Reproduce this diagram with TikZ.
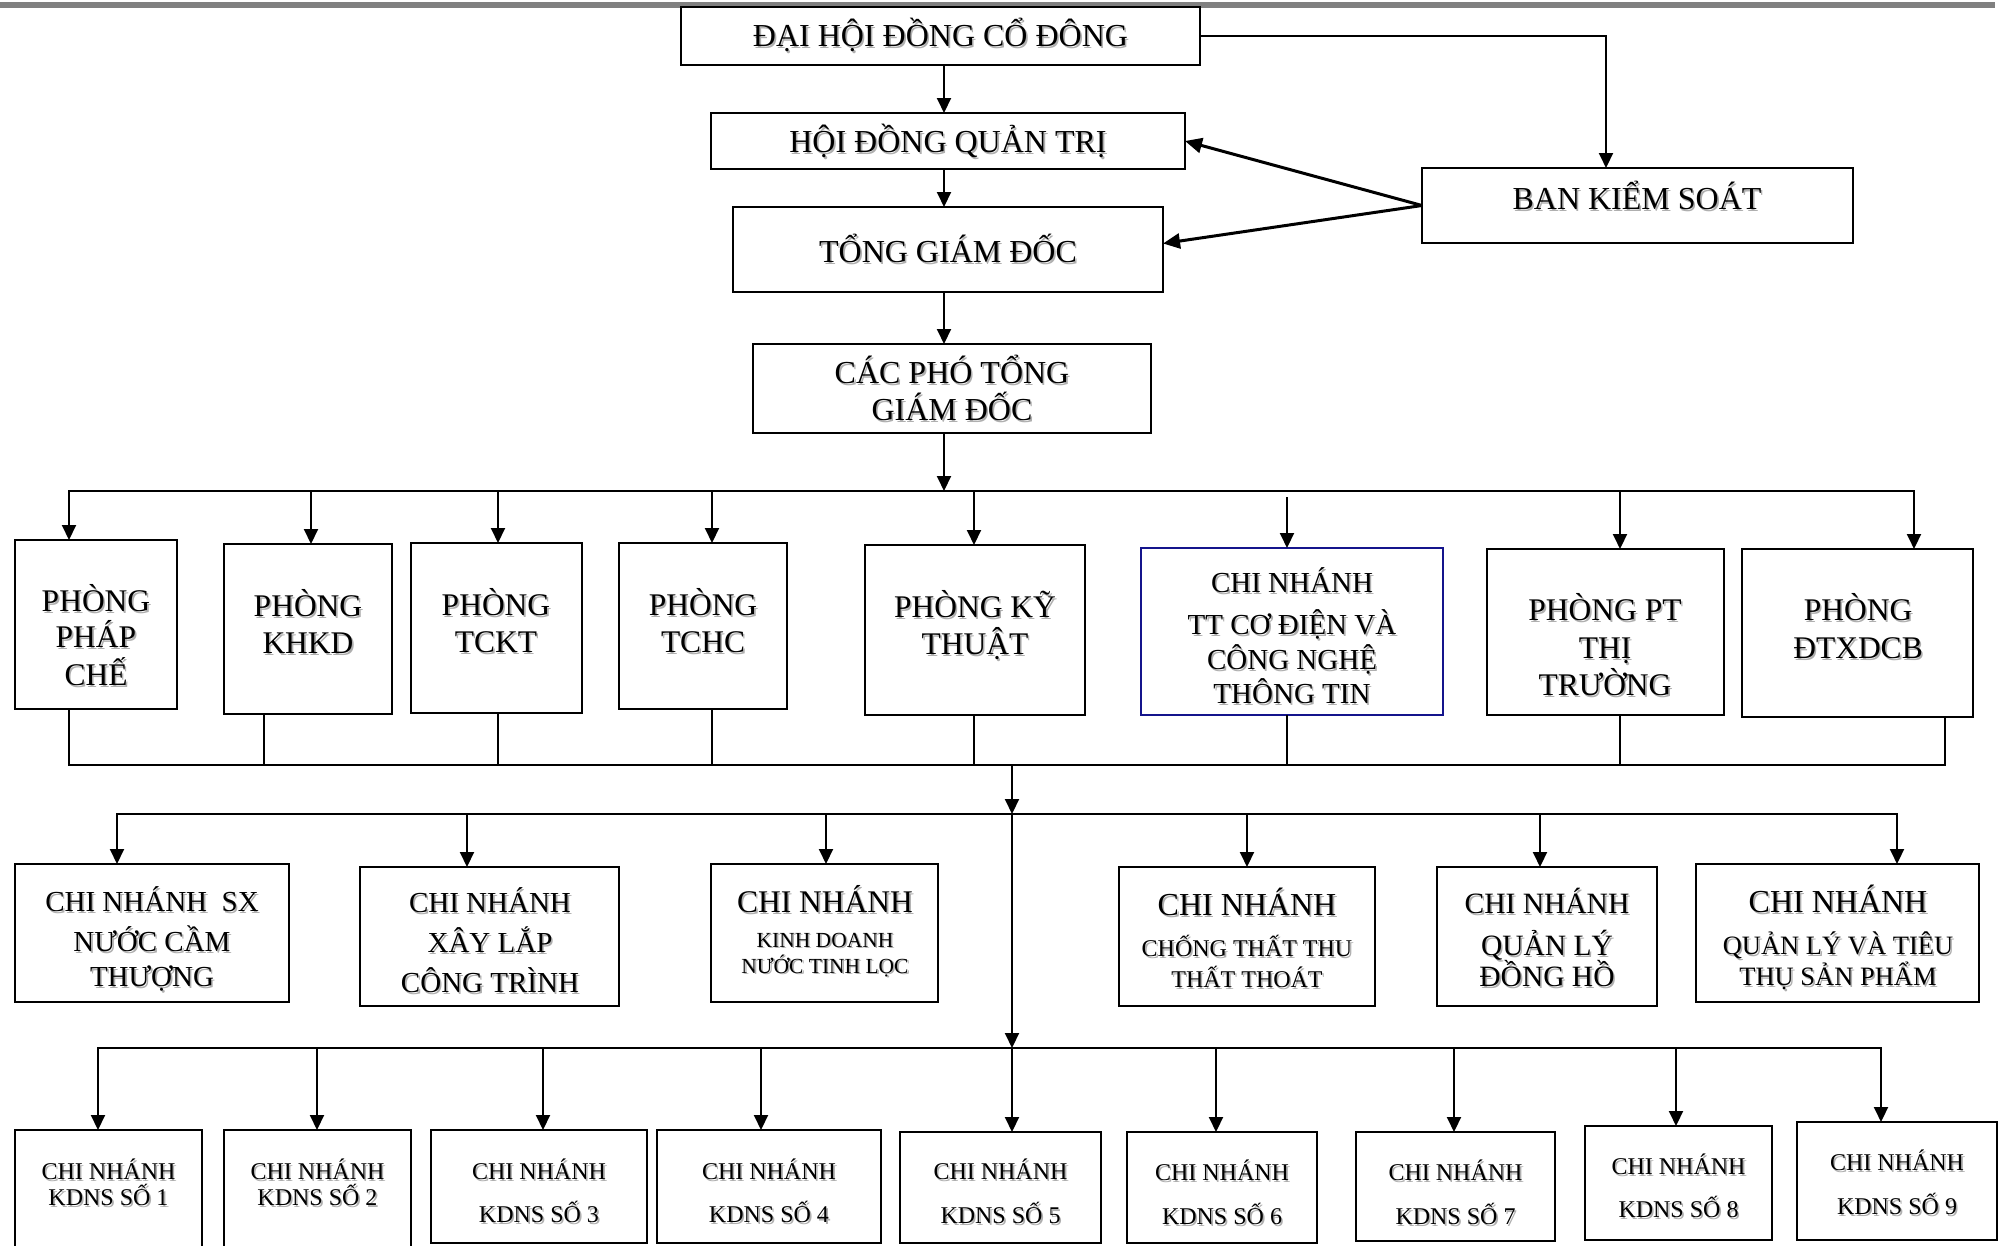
\documentclass[tikz,border=0pt]{standalone}
\usepackage{fontspec}
\setmainfont{Liberation Serif}
\usetikzlibrary{arrows.meta,calc}
\definecolor{barcol}{RGB}{128,128,128}
\definecolor{navyb}{RGB}{20,20,140}
\definecolor{shadowc}{RGB}{175,175,175}
\tikzset{
  box/.style={draw=black,line width=2pt,inner sep=0pt,outer sep=0pt,fill=white},
  conn/.style={draw=black,line width=2pt},
  arr/.style={conn,-{Triangle[length=15pt,width=14pt]}},
  sidearr/.style={draw=black,line width=3pt,-{Triangle[length=17pt,width=15pt]}},
  busline/.style={draw=black,line width=2.6pt,line cap=rect},
  txt/.style={anchor=base,inner sep=0pt,outer sep=0pt,text=black},
  txtsh/.style={anchor=base,inner sep=0pt,outer sep=0pt,text=shadowc},
}
\newcommand\mkbox[6][]{\node[box,#1,minimum width={#5-#3},minimum height={#6-#4}] (#2) at ({(#3+#5)/2},{(#4+#6)/2}) {};}
\newcommand\tline[5]{%
  \node[txtsh,font=\fontsize{#4}{#4}\selectfont] (#1s) at ({#2+1.6},{#3+0.33*#4+1.6}) {#5};
  \node[txt,font=\fontsize{#4}{#4}\selectfont] (#1) at ({#2},{#3+0.33*#4}) {#5};}
\begin{document}
\begin{tikzpicture}[x=1pt,y=-1pt]
\useasboundingbox (0,0) rectangle (2005,1245);
\clip (0,0) rectangle (2005,1245);
\fill[barcol] (0,2) rectangle (1995,8);

% ---------- boxes ----------
\mkbox{dh}{681}{7}{1200}{65}
\mkbox{hd}{711}{113}{1185}{169}
\mkbox{tgd}{733}{207}{1163}{292}
\mkbox{pho}{753}{344}{1151}{433}
\mkbox{bks}{1422}{168}{1853}{243}
% row 1
\mkbox{p1}{15}{540}{177}{709}
\mkbox{p2}{224}{544}{392}{714}
\mkbox{p3}{411}{543}{582}{713}
\mkbox{p4}{619}{543}{787}{709}
\mkbox{p5}{865}{545}{1085}{715}
\mkbox[draw=navyb]{p6}{1141}{548}{1443}{715}
\mkbox{p7}{1487}{549}{1724}{715}
\mkbox{p8}{1742}{549}{1973}{717}
% row 2
\mkbox{c1}{15}{864}{289}{1002}
\mkbox{c2}{360}{867}{619}{1006}
\mkbox{c3}{711}{864}{938}{1002}
\mkbox{c4}{1119}{867}{1375}{1006}
\mkbox{c5}{1437}{867}{1657}{1006}
\mkbox{c6}{1696}{864}{1979}{1002}
% row 3
\mkbox{k1}{15}{1130}{202}{1262}
\mkbox{k2}{224}{1130}{411}{1262}
\mkbox{k3}{431}{1130}{647}{1243}
\mkbox{k4}{657}{1130}{881}{1243}
\mkbox{k5}{900}{1132}{1101}{1243}
\mkbox{k6}{1127}{1132}{1317}{1243}
\mkbox{k7}{1356}{1132}{1555}{1241}
\mkbox{k8}{1585}{1126}{1772}{1240}
\mkbox{k9}{1797}{1122}{1997}{1240}

% ---------- top connectors ----------
\coordinate (ax) at (944,0);
\draw[arr] (dh.south -| ax) -- (hd.north -| ax);
\draw[arr] (hd.south -| ax) -- (tgd.north -| ax);
\draw[arr] (tgd.south -| ax) -- (pho.north -| ax);
\coordinate (kx) at (1606,0);
\draw[arr] (dh.east) -| (kx |- bks.north);
\draw[sidearr] (bks.west) -- (hd.east);
\draw[sidearr] (bks.west) -- ([yshift=6pt]tgd.east);

% ---------- bus 1 ----------
\coordinate (b1l) at (69,491);
\coordinate (b1r) at (1914,491);
\draw[busline] (b1l) -- (b1r);
\draw[arr] (pho.south -| ax) -- (ax |- b1l);
\foreach \n/\x in {p1/69,p2/311,p3/498,p4/712,p5/974,p7/1620,p8/1914}{
  \coordinate (a\n) at (\x,491);
  \draw[arr] (a\n) -- (a\n |- \n.north);
}
\coordinate (ap6) at (1287,497);
\draw[arr] (ap6) -- (ap6 |- p6.north);

% ---------- bus 2 ----------
\coordinate (b2l) at (69,765);
\coordinate (b2r) at (1945,765);
\draw[busline] (b2l) -- (b2r);
\foreach \n/\x in {p1/69,p2/264,p3/498,p4/712,p5/974,p6/1287,p7/1620,p8/1945}{
  \coordinate (d\n) at (\x,765);
  \draw[conn] (\n.south -| d\n) -- (d\n);
}
\coordinate (m2) at (1012,765);
\coordinate (m3) at (1012,814);
\draw[arr] (m2) -- (m3);

% ---------- bus 3 ----------
\coordinate (b3l) at (117,814);
\coordinate (b3r) at (1897,814);
\draw[busline] (b3l) -- (b3r);
\foreach \n/\x in {c1/117,c2/467,c3/826,c4/1247,c5/1540,c6/1897}{
  \coordinate (a\n) at (\x,814);
  \draw[arr] (a\n) -- (a\n |- \n.north);
}
\coordinate (m4) at (1012,1048);
\draw[arr] (m3) -- (m4);

% ---------- bus 4 ----------
\coordinate (b4l) at (98,1048);
\coordinate (b4r) at (1881,1048);
\draw[busline] (b4l) -- (b4r);
\foreach \n/\x in {k1/98,k2/317,k3/543,k4/761,k5/1012,k6/1216,k7/1454,k8/1676,k9/1881}{
  \coordinate (a\n) at (\x,1048);
  \draw[arr] (a\n) -- (a\n |- \n.north);
}

% ---------- texts ----------
\tline{tdh}{940.5}{36}{32}{ĐẠI HỘI ĐỒNG CỔ ĐÔNG}
\tline{thd}{948}{142}{32}{HỘI ĐỒNG QUẢN TRỊ}
\tline{ttgd}{948}{252}{32}{TỔNG GIÁM ĐỐC}
\tline{tpho1}{952}{373}{32}{CÁC PHÓ TỔNG}
\tline{tpho2}{952}{410}{32}{GIÁM ĐỐC}
\tline{tbks}{1637}{199}{32}{BAN KIỂM SOÁT}

\tline{tp1a}{96}{601}{31.5}{PHÒNG}
\tline{tp1b}{96}{637}{31.5}{PHÁP}
\tline{tp1c}{96}{675}{31.5}{CHẾ}
\tline{tp2a}{308}{606}{31.5}{PHÒNG}
\tline{tp2b}{308}{643}{31.5}{KHKD}
\tline{tp3a}{496}{605}{31.5}{PHÒNG}
\tline{tp3b}{496}{642}{31.5}{TCKT}
\tline{tp4a}{703}{605}{31.5}{PHÒNG}
\tline{tp4b}{703}{642}{31.5}{TCHC}
\tline{tp5a}{975}{607}{31.5}{PHÒNG KỸ}
\tline{tp5b}{975}{644}{31.5}{THUẬT}
\tline{tp6a}{1292}{583}{29}{CHI NHÁNH}
\tline{tp6b}{1292}{625}{29}{TT CƠ ĐIỆN VÀ}
\tline{tp6c}{1292}{660}{29}{CÔNG NGHỆ}
\tline{tp6d}{1292}{694}{29}{THÔNG TIN}
\tline{tp7a}{1605}{610}{31.5}{PHÒNG PT}
\tline{tp7b}{1605}{648}{31.5}{THỊ}
\tline{tp7c}{1605}{685}{31.5}{TRƯỜNG}
\tline{tp8a}{1858}{610}{31.5}{PHÒNG}
\tline{tp8b}{1858}{648}{31.5}{ĐTXDCB}

\tline{tc1a}{152}{902}{29}{CHI NHÁNH\ \ SX}
\tline{tc1b}{152}{942}{29}{NƯỚC CẦM}
\tline{tc1c}{152}{977}{29}{THƯỢNG}
\tline{tc2a}{490}{903}{29}{CHI NHÁNH}
\tline{tc2b}{490}{943}{29}{XÂY LẮP}
\tline{tc2c}{490}{983}{29}{CÔNG TRÌNH}
\tline{tc3a}{825}{902}{31.5}{CHI NHÁNH}
\tline{tc3b}{825}{940}{21.5}{KINH DOANH}
\tline{tc3c}{825}{966}{21.5}{NƯỚC TINH LỌC}
\tline{tc4a}{1247}{905}{32}{CHI NHÁNH}
\tline{tc4b}{1247}{949}{24}{CHỐNG THẤT THU}
\tline{tc4c}{1247}{980}{24}{THẤT THOÁT}
\tline{tc5a}{1547}{904}{29.5}{CHI NHÁNH}
\tline{tc5b}{1547}{946}{29.5}{QUẢN LÝ}
\tline{tc5c}{1547}{977}{29.5}{ĐỒNG HỒ}
\tline{tc6a}{1838}{902}{32}{CHI NHÁNH}
\tline{tc6b}{1838}{946}{26.5}{QUẢN LÝ VÀ TIÊU}
\tline{tc6c}{1838}{977}{26.5}{THỤ SẢN PHẨM}

\tline{tk1a}{108.5}{1172}{24}{CHI NHÁNH}
\tline{tk1b}{108.5}{1198}{24}{KDNS SỐ 1}
\tline{tk2a}{317.5}{1172}{24}{CHI NHÁNH}
\tline{tk2b}{317.5}{1198}{24}{KDNS SỐ 2}
\tline{tk3a}{539}{1172}{24}{CHI NHÁNH}
\tline{tk3b}{539}{1215}{24}{KDNS SỐ 3}
\tline{tk4a}{769}{1172}{24}{CHI NHÁNH}
\tline{tk4b}{769}{1215}{24}{KDNS SỐ 4}
\tline{tk5a}{1000.5}{1172}{24}{CHI NHÁNH}
\tline{tk5b}{1000.5}{1216}{24}{KDNS SỐ 5}
\tline{tk6a}{1222}{1173}{24}{CHI NHÁNH}
\tline{tk6b}{1222}{1217}{24}{KDNS SỐ 6}
\tline{tk7a}{1455.5}{1173}{24}{CHI NHÁNH}
\tline{tk7b}{1455.5}{1217}{24}{KDNS SỐ 7}
\tline{tk8a}{1678.5}{1167}{24}{CHI NHÁNH}
\tline{tk8b}{1678.5}{1210}{24}{KDNS SỐ 8}
\tline{tk9a}{1897}{1163}{24}{CHI NHÁNH}
\tline{tk9b}{1897}{1207}{24}{KDNS SỐ 9}
\end{tikzpicture}
\end{document}
